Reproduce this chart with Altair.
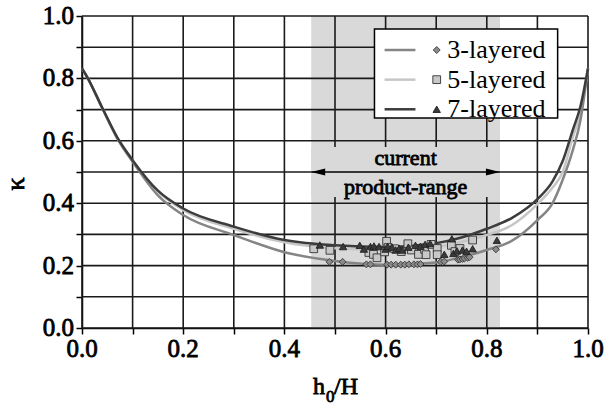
import altair as alt
import pandas as pd

# ---------------- data ----------------
series = ["3-layered", "5-layered", "7-layered"]

x_curve = [0, 0.01, 0.04, 0.07, 0.1, 0.15, 0.2, 0.3, 0.4, 0.5, 0.6, 0.7,
           0.75, 0.8, 0.85, 0.9, 0.93, 0.95, 0.97, 0.985, 1.0]
k3_curve = [0.832, 0.805, 0.705, 0.607, 0.533, 0.425, 0.362, 0.298, 0.243, 0.215, 0.203, 0.210,
            0.227, 0.250, 0.280, 0.346, 0.400, 0.475, 0.570, 0.665, 0.832]
k5_curve = [0.832, 0.805, 0.705, 0.608, 0.535, 0.437, 0.378, 0.318, 0.275, 0.256, 0.251, 0.260,
            0.276, 0.298, 0.330, 0.397, 0.450, 0.500, 0.612, 0.690, 0.832]
k7_curve = [0.832, 0.805, 0.706, 0.610, 0.538, 0.440, 0.383, 0.325, 0.282, 0.265, 0.260, 0.272,
            0.290, 0.318, 0.353, 0.413, 0.470, 0.535, 0.635, 0.710, 0.832]

x3_pts = [0.489, 0.515, 0.562, 0.570, 0.603, 0.611, 0.620, 0.630, 0.638, 0.646, 0.656, 0.663,
          0.669, 0.709, 0.716, 0.743, 0.747, 0.752, 0.756, 0.762, 0.766, 0.818]
y3_pts = [0.212, 0.212, 0.204, 0.204, 0.203, 0.203, 0.203, 0.203, 0.203, 0.204, 0.204, 0.204,
          0.205, 0.212, 0.213, 0.219, 0.220, 0.221, 0.223, 0.225, 0.227, 0.252]

x5_pts = [0.458, 0.490, 0.567, 0.576, 0.583, 0.598, 0.602, 0.605, 0.618, 0.631, 0.644, 0.651,
          0.665, 0.677, 0.680, 0.690, 0.702, 0.702, 0.730, 0.737, 0.747, 0.772]
y5_pts = [0.254, 0.249, 0.242, 0.236, 0.225, 0.244, 0.278, 0.258, 0.254, 0.245, 0.270, 0.250,
          0.236, 0.252, 0.235, 0.268, 0.255, 0.235, 0.265, 0.245, 0.255, 0.282]

x7_pts = [0.470, 0.516, 0.549, 0.557, 0.570, 0.577, 0.587, 0.600, 0.604, 0.613, 0.620, 0.627,
          0.633, 0.645, 0.659, 0.669, 0.678, 0.688, 0.716, 0.731, 0.734, 0.741, 0.752, 0.760,
          0.772, 0.820]
y7_pts = [0.266, 0.261, 0.265, 0.253, 0.261, 0.263, 0.261, 0.253, 0.262, 0.259, 0.250, 0.255,
          0.250, 0.259, 0.265, 0.262, 0.268, 0.271, 0.236, 0.286, 0.239, 0.247, 0.250, 0.246,
          0.254, 0.281]

range_limits = [0.453, 0.826]           # current product-range
range_labels = ["current", "product-range"]
grid_values = [i / 10 for i in range(11)]
label_values = [0.0, 0.2, 0.4, 0.6, 0.8, 1.0]
tick_labels = ["0.0", "0.2", "0.4", "0.6", "0.8", "1.0"]
x_title_parts = ["h", "0", "/H"]
y_title = "κ"

# ---------------- styles ----------------
line_colors = {"3-layered": "#858585", "5-layered": "#c6c6c6", "7-layered": "#3c3c3c"}
marker_style = {
    "3-layered": dict(shape="diamond", size=48, fill="#8a8a8a", stroke="#3a3a3a"),
    "5-layered": dict(shape="square", size=60, fill="#c8c8c8", stroke="#333333"),
    "7-layered": dict(shape="triangle-up", size=55, fill="#3a3a3a", stroke="#222222"),
}
FONT = "Liberation Serif"
GRID = "#1a1a1a"
BAND = "#d9d9d9"
W, H = 506, 312

xscale = alt.Scale(domain=[0, 1], nice=False, zero=False)
yscale = alt.Scale(domain=[0, 1], nice=False, zero=False)

axis_common = dict(values=grid_values, labels=False, title="", grid=False, tickSize=6,
                   tickColor="black", domainColor="black", domainWidth=1.5, tickWidth=1.5)
x_axis = alt.Axis(**axis_common)
y_axis = alt.Axis(**axis_common)


def X(field):
    return alt.X(field, type="quantitative", scale=xscale, axis=x_axis)


def Y(field):
    return alt.Y(field, type="quantitative", scale=yscale, axis=y_axis)


def bold_text(**kw):
    # faux-bold serif text (stroke thickens the regular face)
    return dict(font=FONT, color="black", stroke="black", strokeWidth=0.8, **kw)


# ---------------- layers ----------------
band_df = pd.DataFrame({"lo": [range_limits[0]], "hi": [range_limits[1]], "b": [0.0], "t": [1.0]})
band = alt.Chart(band_df).mark_rect(color=BAND).encode(
    x=X("lo"), x2="hi", y=Y("b"), y2="t")

vgrid = alt.Chart(pd.DataFrame({"g": grid_values})).mark_rule(color=GRID, strokeWidth=1.6).encode(
    x=X("g"))
hgrid = alt.Chart(pd.DataFrame({"g": grid_values})).mark_rule(color=GRID, strokeWidth=1.6).encode(
    y=Y("g"))

box_df = pd.DataFrame({"lo": [range_limits[0]], "hi": [range_limits[1]], "b": [0.42], "t": [0.58]})
label_box = alt.Chart(box_df).mark_rect(color=BAND).encode(x=X("lo"), x2="hi", y=Y("b"), y2="t")

arrow_df = pd.DataFrame({"lo": [range_limits[0]], "hi": [range_limits[1]], "y": [0.5]})
arrow_line = alt.Chart(arrow_df).mark_rule(color="black", strokeWidth=1.5).encode(
    x=X("lo"), x2="hi", y=Y("y"))
head_left = alt.Chart(pd.DataFrame({"x": [range_limits[0]], "y": [0.5]})).mark_point(
    shape="M0,0L2,-0.5L2,0.5Z", size=196, filled=True, color="black", opacity=1).encode(
    x=X("x"), y=Y("y"))
head_right = alt.Chart(pd.DataFrame({"x": [range_limits[1]], "y": [0.5]})).mark_point(
    shape="M0,0L-2,-0.5L-2,0.5Z", size=196, filled=True, color="black", opacity=1).encode(
    x=X("x"), y=Y("y"))

mid = (range_limits[0] + range_limits[1]) / 2
text_df = pd.DataFrame({"x": [mid, mid], "y": [0.545, 0.453], "t": range_labels})
range_text = alt.Chart(text_df).mark_text(**bold_text(fontSize=22, baseline="middle")).encode(
    x=X("x"), y=Y("y"), text="t:N")

curve_vals = {"3-layered": k3_curve, "5-layered": k5_curve, "7-layered": k7_curve}
pts = {"3-layered": (x3_pts, y3_pts), "5-layered": (x5_pts, y5_pts), "7-layered": (x7_pts, y7_pts)}

curves = []
for s in ["5-layered", "3-layered", "7-layered"]:
    df = pd.DataFrame({"x": x_curve, "k": curve_vals[s]})
    curves.append(alt.Chart(df).mark_line(color=line_colors[s], strokeWidth=2.5,
                                          interpolate="monotone").encode(x=X("x"), y=Y("k")))

markers = []
for s in ["5-layered", "3-layered", "7-layered"]:
    xs, ys = pts[s]
    st = marker_style[s]
    df = pd.DataFrame({"x": xs, "k": ys})
    markers.append(alt.Chart(df).mark_point(shape=st["shape"], size=st["size"], filled=True,
                                            fill=st["fill"], stroke=st["stroke"], strokeWidth=0.9,
                                            opacity=1).encode(x=X("x"), y=Y("k")))

# legend box drawn in data space
leg_box_df = pd.DataFrame({"lo": [0.578], "hi": [0.94], "b": [0.673], "t": [0.958]})
leg_box = alt.Chart(leg_box_df).mark_rect(fill="white", stroke="black", strokeWidth=1.5).encode(
    x=X("lo"), x2="hi", y=Y("b"), y2="t")

leg_layers = []
for i, s in enumerate(series):
    yrow = 0.891 - i * 0.095
    ldf = pd.DataFrame({"a": [0.598], "b": [0.659], "y": [yrow]})
    leg_layers.append(alt.Chart(ldf).mark_rule(color=line_colors[s], strokeWidth=2.5).encode(
        x=X("a"), x2="b", y=Y("y")))
    st = marker_style[s]
    mdf = pd.DataFrame({"x": [0.701], "y": [yrow]})
    leg_layers.append(alt.Chart(mdf).mark_point(shape=st["shape"], size=st["size"], filled=True,
                                                fill=st["fill"], stroke=st["stroke"],
                                                strokeWidth=0.9, opacity=1).encode(
        x=X("x"), y=Y("y")))
    tdf = pd.DataFrame({"x": [0.722], "y": [yrow], "t": [s]})
    leg_layers.append(alt.Chart(tdf).mark_text(font=FONT, fontSize=26, align="left",
                                               baseline="middle", color="black").encode(
        x=X("x"), y=Y("y"), text="t:N"))

# tick labels (serif bold look) and axis titles
lab_df = pd.DataFrame({"v": label_values, "t": tick_labels})
x_labels = alt.Chart(lab_df).mark_text(**bold_text(fontSize=25, align="center",
                                                   baseline="alphabetic")).encode(
    x=X("v"), y=alt.value(H + 29), text="t:N")
y_labels = alt.Chart(lab_df).mark_text(**bold_text(fontSize=25, align="right",
                                                   baseline="alphabetic", dy=8)).encode(
    x=alt.value(-8), y=Y("v"), text="t:N")

xt_df = pd.DataFrame({"t": x_title_parts})
x_title_h = alt.Chart(xt_df.iloc[[0]]).mark_text(**bold_text(fontSize=24, align="left",
                                                             baseline="alphabetic")).encode(
    x=alt.value(W / 2 - 22), y=alt.value(H + 66), text="t:N")
x_title_0 = alt.Chart(xt_df.iloc[[1]]).mark_text(**bold_text(fontSize=17, align="left",
                                                             baseline="alphabetic")).encode(
    x=alt.value(W / 2 - 9), y=alt.value(H + 74), text="t:N")
x_title_H = alt.Chart(xt_df.iloc[[2]]).mark_text(**bold_text(fontSize=24, align="left",
                                                             baseline="alphabetic")).encode(
    x=alt.value(W / 2 - 1), y=alt.value(H + 66), text="t:N")
y_title_mark = alt.Chart(pd.DataFrame({"t": [y_title]})).mark_text(
    **bold_text(fontSize=26, align="center", baseline="middle", angle=270)).encode(
    x=alt.value(-66), y=alt.value(H / 2 + 12), text="t:N")

chart = alt.layer(
    band, vgrid, hgrid, label_box, arrow_line, head_left, head_right, range_text,
    *curves, *markers, leg_box, *leg_layers,
    x_labels, y_labels, x_title_h, x_title_0, x_title_H, y_title_mark
).properties(
    width=W, height=H,
    autosize=alt.AutoSizeParams(type="none"),
    padding={"left": 82, "top": 16, "right": 16, "bottom": 79},
    background="white",
).configure_view(stroke=None)

chart.save("out.html", embed_options={"renderer": "svg", "actions": False})
